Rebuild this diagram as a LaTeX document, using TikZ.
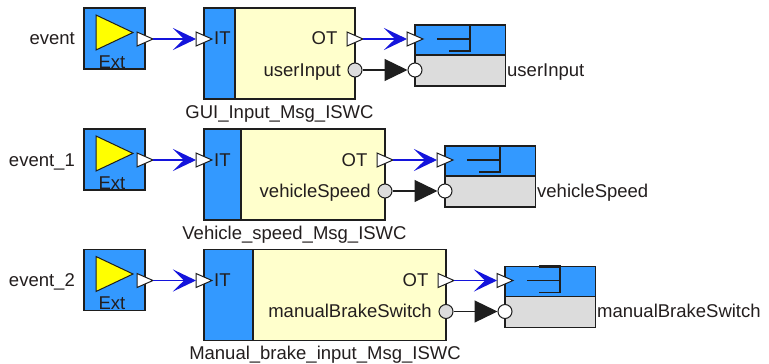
\documentclass[tikz,border=0pt]{standalone}
\usepackage{fontspec}
\setmainfont{Liberation Sans}
\usetikzlibrary{arrows.meta}
\definecolor{bblue}{RGB}{51,153,255}
\definecolor{byellow}{RGB}{255,255,204}
\definecolor{bgray}{RGB}{220,220,220}
\definecolor{tyellow}{RGB}{255,255,0}
\definecolor{cblue}{RGB}{20,20,220}
\definecolor{txt}{RGB}{35,30,30}
\definecolor{edge}{RGB}{30,30,30}
\tikzset{
 bd/.style={draw=edge, line width=1.3pt},
 lbl/.style={font=\fontsize{18.5}{20}\selectfont, text=txt, inner sep=0pt},
 boxn/.style={bd, inner sep=0pt, outer sep=0pt, anchor=north west},
 tportst/.style={draw=edge, fill=white, line width=1pt, line join=miter},
 cport/.style={circle, draw=edge, line width=1pt, inner sep=0pt, minimum size=14pt},
 bluecon/.style={cblue, line width=1.1pt, -{Stealth[length=23pt,width=22pt,inset=11pt]}},
 blackcon/.style={edge, line width=1.3pt, -{Triangle[length=23pt,width=22pt]}},
 iconline/.style={edge, line width=1.3pt},
}
\newcommand\tport[3]{%
 \draw[tportst] (#2-8,#3-7) -- (#2+8,#3) -- (#2-8,#3+7) -- cycle;
 \coordinate (#1-in) at (#2-8,#3);
 \coordinate (#1-out) at (#2+8,#3);
}
\newcommand\myrow[8]{%
\begin{scope}[yshift=-#2pt]
 \node[lbl, anchor=base east] (ev#1) at (75,45) {#7};
 % Ext block
 \node[boxn, fill=bblue, minimum width=61pt, minimum height=61pt] (ext#1) at (84,8) {};
 \draw[draw=edge, line width=1pt, fill=tyellow] (96,15) -- (133,32.5) -- (96,50) -- cycle;
 \node[lbl, anchor=base] (extt#1) at (112,68) {Ext};
 % SWC block
 \node[boxn, fill=byellow, minimum width={(#3-204)*1pt}, minimum height=91pt] (swc#1) at (204,8) {};
 \draw[bd, fill=bblue] (204,8) rectangle (#4,99);
 \node[lbl, anchor=base west] (it#1) at (214,45) {IT};
 \node[lbl, anchor=base east] (ot#1) at (#3-17.5,45) {OT};
 \node[lbl, anchor=base east] (dl#1) at (#3-14,76) {#6};
 \node[lbl, anchor=base] (sn#1) at ({(204+#3)/2},118) {#8};
 % target block
 \node[boxn, fill=bgray, minimum width=90.5pt, minimum height=61pt] (tg#1) at (#5,25) {};
 \draw[bd, fill=bblue] (#5,25) rectangle (#5+90.5,55);
 \draw[iconline] (#5+22,39) -- (#5+55,39);
 \draw[iconline] (#5+34,51) -- (#5+55,51) -- (#5+55,25);
 \draw[edge, line width=2.2pt] (#5+34,25) -- (#5+55.6,25);
 \node[lbl, anchor=base west] (tl#1) at (#5+92,76) {#6};
 % ports and connectors
 \tport{ep#1}{145}{39}
 \tport{ip#1}{204}{39}
 \tport{op#1}{#3}{39}
 \tport{tp#1}{#5}{39}
 \node[cport, fill=bgray] (dp#1) at (#3,70) {};
 \node[cport, fill=white] (tc#1) at (#5,70) {};
 \draw[bluecon] (ep#1-out) -- (ip#1-in);
 \draw[bluecon] (op#1-out) -- (tp#1-in);
 \draw[blackcon] (dp#1) -- (tc#1);
\end{scope}}
\begin{document}
\begin{tikzpicture}[x=1pt, y=-1pt]
\useasboundingbox (0,0) rectangle (769,364);
\fill[white] (0,0) rectangle (769,364);
\myrow{1}{0}{355}{235}{415}{userInput}{event}{GUI\_Input\_Msg\_ISWC}
\myrow{2}{121}{385}{241}{445}{vehicleSpeed}{event\_1}{Vehicle\_speed\_Msg\_ISWC}
\myrow{3}{241.5}{446}{253}{505}{manualBrakeSwitch}{event\_2}{Manual\_brake\_input\_Msg\_ISWC}
\end{tikzpicture}
\end{document}
